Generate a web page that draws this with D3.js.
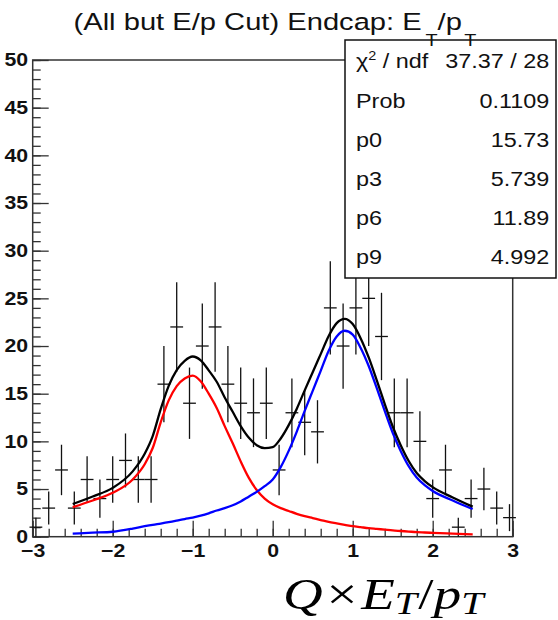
<!DOCTYPE html>
<html>
<head>
<meta charset="utf-8">
<script src="https://cdn.jsdelivr.net/npm/d3@7"></script>
<style>
  body { margin: 0; background: #fff; }
  svg { display: block; font-family: "Liberation Sans", Arial, sans-serif; }
</style>
</head>
<body>
<div id="chart"></div>
<script>
// histogram: bin centres and counts (bins are 0.16 wide)
const binCenters = [-2.96,-2.80,-2.64,-2.48,-2.32,-2.16,-2.00,-1.84,-1.68,-1.52,-1.36,-1.20,-1.04,-0.88,-0.72,-0.56,-0.40,-0.24,-0.08,
                    0.08,0.24,0.40,0.56,0.72,0.88,1.04,1.20,1.36,1.52,1.68,1.84,2.00,2.16,2.32,2.48,2.64,2.80,2.96];
const counts = [1,3,7,3,6,4,6,8,6,6,16,22,14,20,22,16,14,13,14,
                7,13,12,11,24,20,24,25,21,13,13,10,4,7,1,4,5,3,2];
const binWidth = 0.16;

// fit components
const fitX = [-2.5,-2.25,-2.0,-1.75,-1.6,-1.5,-1.4,-1.3,-1.2,-1.1,-1.0,-0.9,-0.8,-0.7,-0.6,-0.5,-0.4,-0.3,-0.2,-0.1,
              0,0.1,0.2,0.3,0.4,0.5,0.6,0.7,0.8,0.9,1.0,1.1,1.2,1.3,1.4,1.5,1.6,1.7,1.8,1.9,2.0,2.25,2.5];
const fitNeg = [3.1,3.8,4.6,6.0,7.6,9.3,12.0,14.3,15.8,16.6,16.9,16.3,15.0,13.5,11.6,9.8,7.9,6.2,4.9,4.0,
                3.4,3.0,2.7,2.4,2.15,1.95,1.75,1.55,1.4,1.25,1.1,1.0,0.9,0.82,0.74,0.66,0.6,0.54,0.48,0.44,0.4,0.32,0.25];
const fitPos = [0.33,0.42,0.52,0.85,1.1,1.25,1.38,1.52,1.68,1.85,2.0,2.2,2.45,2.75,3.0,3.3,3.7,4.2,4.7,5.3,
                6.0,7.3,9.0,11.0,13.2,15.3,17.4,19.5,21.0,21.6,21.2,19.8,17.9,15.6,13.2,10.9,9.0,7.4,6.2,5.4,4.8,3.8,2.9];

const statNames = ["ndf", "Prob", "p0", "p3", "p6", "p9"];
const statValues = ["37.37 / 28", "0.1109", "15.73", "5.739", "11.89", "4.992"];

const xMajor = [-3,-2,-1,0,1,2,3];
const xMinor = d3.range(-3, 3.001, 0.2).map(v => +v.toFixed(1));
const yMajor = [0,5,10,15,20,25,30,35,40,45,50];
const yMinor = d3.range(0, 51, 1);

const W = 558, H = 620;
const x = d3.scaleLinear().domain([-3, 3]).range([32.7, 512.7]);
const y = d3.scaleLinear().domain([0, 50]).range([536.7, 60]);

const svg = d3.select("#chart").append("svg")
  .attr("width", W).attr("height", H);

// ticks (inside the frame, like ROOT)
function ticks(axis, vals, len) {
  return axis.tickValues(vals).tickSizeInner(-len).tickSizeOuter(0);
}
const gx = svg.append("g").attr("transform", "translate(0," + y(0) + ")");
gx.call(ticks(d3.axisBottom(x), xMinor, 8).tickFormat(""));
const gxm = svg.append("g").attr("transform", "translate(0," + y(0) + ")");
gxm.call(ticks(d3.axisBottom(x), xMajor, 16).tickPadding(7).tickFormat(d3.format("d")));

const gy = svg.append("g").attr("transform", "translate(" + x(-3) + ",0)");
gy.call(ticks(d3.axisLeft(y), yMinor, 8).tickFormat(""));
const gym = svg.append("g").attr("transform", "translate(" + x(-3) + ",0)");
gym.call(ticks(d3.axisLeft(y), yMajor, 16).tickPadding(4).tickFormat(d3.format("d")));

svg.selectAll(".domain").remove();
svg.selectAll(".tick line").attr("stroke", "#333").attr("stroke-width", 1.3);
svg.selectAll(".tick text")
  .attr("fill", "#111")
  .attr("font-family", "'Liberation Sans', Arial, sans-serif")
  .attr("font-weight", "bold")
  .attr("font-size", 18.5)
  .attr("transform", "scale(1.15,1)");

// frame
svg.append("rect")
  .attr("x", x(-3)).attr("y", y(50))
  .attr("width", x(3) - x(-3)).attr("height", y(0) - y(50))
  .attr("fill", "none").attr("stroke", "#333").attr("stroke-width", 1.5);

// data points with error bars
const pts = svg.append("g").attr("stroke", "#111").attr("stroke-width", 1.3);
binCenters.forEach((c, i) => {
  const n = counts[i], e = Math.sqrt(n);
  pts.append("line")
    .attr("x1", x(c - binWidth / 2)).attr("x2", x(c + binWidth / 2))
    .attr("y1", y(n)).attr("y2", y(n));
  pts.append("line")
    .attr("x1", x(c)).attr("x2", x(c))
    .attr("y1", y(Math.max(0, n - e))).attr("y2", y(n + e));
});

// fit curves
const line = d3.line().x(d => x(d[0])).y(d => y(d[1])).curve(d3.curveMonotoneX);
const negPts = fitX.map((v, i) => [v, fitNeg[i]]);
const posPts = fitX.map((v, i) => [v, fitPos[i]]);
const sumPts = fitX.map((v, i) => [v, fitNeg[i] + fitPos[i]]);

svg.append("path").attr("d", line(negPts))
  .attr("fill", "none").attr("stroke", "#ff0000").attr("stroke-width", 2.3);
svg.append("path").attr("d", line(posPts))
  .attr("fill", "none").attr("stroke", "#0000ff").attr("stroke-width", 2.3);
svg.append("path").attr("d", line(sumPts))
  .attr("fill", "none").attr("stroke", "#000").attr("stroke-width", 2.3);

// stats box
svg.append("rect")
  .attr("x", 345).attr("y", 40).attr("width", 211).attr("height", 238)
  .attr("fill", "#fff").attr("stroke", "#111").attr("stroke-width", 1.5);

const rowY = d3.scaleLinear().domain([0, 5]).range([68.3, 264.3]);
statNames.forEach((name, i) => {
  const t = svg.append("text")
    .attr("transform", "translate(356," + rowY(i) + ") scale(1.2,1)")
    .attr("font-size", 19.5).attr("fill", "#111");
  if (i === 0) {
    t.append("tspan").text("χ");
    t.append("tspan").attr("font-size", 12).attr("dy", -8).text("2");
    t.append("tspan").attr("dy", 8).text(" / " + name);
  } else {
    t.text(name);
  }
  svg.append("text")
    .attr("transform", "translate(549.3," + rowY(i) + ") scale(1.2,1)")
    .attr("text-anchor", "end")
    .attr("font-size", 19.5).attr("fill", "#111")
    .text(statValues[i]);
});

// title
const title = svg.append("text")
  .attr("transform", "translate(73.5,30) scale(1.24,1)")
  .attr("font-size", 23.5).attr("fill", "#111");
title.append("tspan").text("(All but E/p Cut) Endcap: E");
title.append("tspan").attr("font-size", 16).attr("dx", 3).attr("dy", 16.5).text("T");
title.append("tspan").attr("dy", -16.5).text("/p");
title.append("tspan").attr("font-size", 16).attr("dx", 2).attr("dy", 16.5).text("T");

// x axis label
const xl = svg.append("text")
  .attr("transform", "translate(283,609) scale(1.25,1)")
  .attr("font-family", "'Liberation Serif', 'DejaVu Serif', serif")
  .attr("font-size", 44).attr("fill", "#000");
xl.append("tspan").attr("font-style", "italic").text("Q");
xl.append("tspan").attr("dx", 3).text("×");
xl.append("tspan").attr("dx", 3).attr("font-style", "italic").text("E");
xl.append("tspan").attr("font-style", "italic").attr("font-size", 32).attr("dy", 5).text("T");
xl.append("tspan").attr("dy", -5).attr("dx", 1).text("/");
xl.append("tspan").attr("font-style", "italic").text("p");
xl.append("tspan").attr("font-style", "italic").attr("font-size", 32).attr("dy", 5).text("T");
</script>
</body>
</html>
